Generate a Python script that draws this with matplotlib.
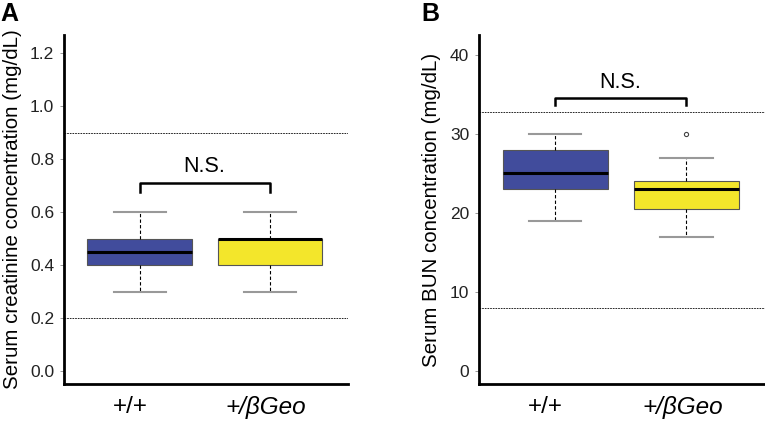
import matplotlib
matplotlib.use('Agg')
import matplotlib.pyplot as plt

plt.rcParams['font.family'] = ['Liberation Sans', 'DejaVu Sans']

########## DATOS ##########
groups = ['+/+', '+/\u03b2Geo']
colors = ['#414c9c', '#f3e62b']

# panel A: creatinina (mg/dL)
crea_low = [0.3, 0.3]
crea_q1 = [0.4, 0.4]
crea_med = [0.45, 0.5]
crea_q3 = [0.5, 0.5]
crea_high = [0.6, 0.6]
crea_out = [[], []]
crea_ref = [0.2, 0.9]

# panel B: BUN (mg/dL)
bun_low = [19, 17]
bun_q1 = [23, 20.5]
bun_med = [25, 23]
bun_q3 = [28, 24]
bun_high = [30, 27]
bun_out = [[], [30]]
bun_ref = [8, 32.7]

fig = plt.figure(figsize=(7.65, 4.23), dpi=100)


def panel(rect, low, q1, med, q3, high, out, ref, ylim, yticks, yfmt,
          bracket, ylabel, letter, letter_x):
    ax = fig.add_axes(rect)
    stats = []
    for i in range(len(groups)):
        stats.append({'whislo': low[i], 'q1': q1[i], 'med': med[i],
                      'q3': q3[i], 'whishi': high[i], 'fliers': out[i]})
    bp = ax.bxp(stats, positions=[1, 2], widths=0.8, patch_artist=True,
                showfliers=True,
                boxprops=dict(edgecolor='#555555', linewidth=0.8),
                medianprops=dict(color='black', linewidth=2.2),
                whiskerprops=dict(color='black', linewidth=0.8,
                                  linestyle=(0, (3, 2))),
                capprops=dict(color='#999999', linewidth=1.5),
                capwidths=0.4,
                flierprops=dict(marker='o', markersize=3, markerfacecolor='white',
                                markeredgecolor='#444444', markeredgewidth=0.8))
    for patch, c in zip(bp['boxes'], colors):
        patch.set_facecolor(c)

    for r in ref:
        ax.axhline(r, color='black', linestyle=(0, (2, 1.2)), linewidth=0.6,
                   zorder=0)

    # corchete N.S.
    b_y, b_leg, t_y = bracket
    ax.plot([1, 1, 2, 2], [b_leg, b_y, b_y, b_leg], color='black',
            linewidth=1.8)
    ax.text(1.5, t_y, 'N.S.', ha='center', va='center', fontsize=15.5)

    ax.set_xlim(0.42, 2.6)
    ax.set_ylim(ylim)
    ax.set_yticks(yticks)
    ax.set_yticklabels([yfmt.format(v) for v in yticks], fontsize=12.5,
                       color='#222222')
    ax.tick_params(axis='y', length=3, width=0.6, color='#888888', pad=4)
    ax.set_xticks([0.93, 1.97])
    ax.set_xticklabels(groups, fontsize=17.5)
    ax.get_xticklabels()[1].set_style('italic')
    ax.tick_params(axis='x', length=0, pad=9)
    ax.set_ylabel(ylabel, fontsize=14.8, labelpad=6)

    for s in ['top', 'right']:
        ax.spines[s].set_visible(False)
    ax.spines['left'].set_linewidth(2)
    ax.spines['bottom'].set_linewidth(2)

    fig.text(letter_x, 0.966, letter, fontsize=18, fontweight='bold',
             ha='left', va='center')
    return ax


panel([0.0837, 0.0922, 0.371, 0.825], crea_low, crea_q1, crea_med, crea_q3,
      crea_high, crea_out, crea_ref, (-0.049, 1.268),
      [0.0, 0.2, 0.4, 0.6, 0.8, 1.0, 1.2], '{:.1f}', (0.71, 0.676, 0.77),
      'Serum creatinine concentration (mg/dL)', 'A', 0.0)

panel([0.626, 0.0922, 0.374, 0.825], bun_low, bun_q1, bun_med, bun_q3,
      bun_high, bun_out, bun_ref, (-1.65, 42.5),
      [0, 10, 20, 30, 40], '{:d}', (34.5, 33.6, 36.5),
      'Serum BUN concentration (mg/dL)', 'B', 0.551)

plt.savefig('out.png', dpi=100)
